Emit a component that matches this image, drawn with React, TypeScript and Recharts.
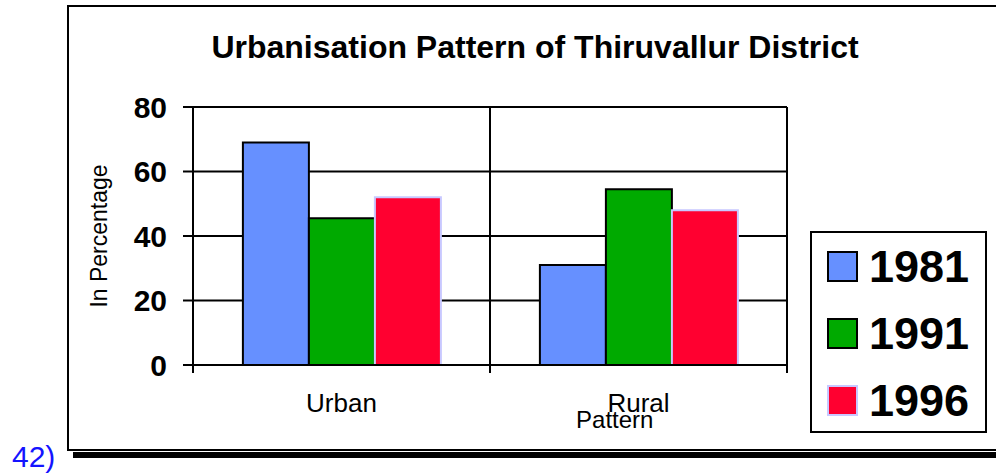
import React from "react";
import { Bar, BarChart, CartesianGrid, Legend, XAxis, YAxis } from "recharts";

const categories = ["Urban", "Rural"];
const values1981 = [69, 31];
const values1991 = [45.5, 54.5];
const values1996 = [52, 48];
const yTicks = [0, 20, 40, 60, 80];

const FONT = "'Liberation Sans', Arial, sans-serif";

const series = [
  { key: "1981", fill: "#6690ff", stroke: "#000000" },
  { key: "1991", fill: "#00aa00", stroke: "#000000" },
  { key: "1996", fill: "#ff0030", stroke: "#c8c8ff" },
];

const data = categories.map((category, i) => ({
  category,
  "1981": values1981[i],
  "1991": values1991[i],
  "1996": values1996[i],
}));

function CategoryTick(props: any) {
  const { x, y, payload, index } = props;
  const half = payload?.offset ?? 0;
  const last = index === categories.length - 1;
  return (
    <g>
      <line x1={x - half} y1={y} x2={x - half} y2={y + 8} stroke="#000" strokeWidth={2} />
      {last && <line x1={x + half} y1={y} x2={x + half} y2={y + 8} stroke="#000" strokeWidth={2} />}
      <text x={x} y={y + 47} textAnchor="middle" fontFamily={FONT} fontSize={26} fill="#000">
        {payload.value}
      </text>
    </g>
  );
}

function LegendBox({ payload }: any) {
  const items = payload ?? [];
  return (
    <div
      style={{
        width: 177,
        height: 202,
        border: "2px solid #000",
        boxSizing: "border-box",
        background: "#fff",
        paddingTop: 0,
        paddingLeft: 15,
      }}
    >
      {items.map((entry: any) => {
        const s = series.find((d) => d.key === entry.value);
        return (
          <div key={entry.value} style={{ display: "flex", alignItems: "center", height: 67 }}>
            <div
              style={{
                width: 31,
                height: 31,
                boxSizing: "border-box",
                background: s?.fill ?? entry.color,
                border: `2px solid ${s?.stroke ?? "#000"}`,
                marginRight: 11,
              }}
            />
            <span style={{ fontFamily: FONT, fontWeight: "bold", fontSize: 45, lineHeight: "45px", color: "#000" }}>
              {entry.value}
            </span>
          </div>
        );
      })}
    </div>
  );
}

export default function App() {
  return (
    <div style={{ position: "absolute", left: 0, top: 0, width: 996, height: 474, background: "#fff", overflow: "hidden" }}>
      <svg width={996} height={474} style={{ position: "absolute", left: 0, top: 0 }}>
        <rect x={68} y={6} width={960} height={444} fill="#fff" stroke="#000" strokeWidth={2} />
        <rect x={73} y={452} width={930} height={6} fill="#000" />
        <text x={535} y={58} textAnchor="middle" fontFamily={FONT} fontWeight="bold" fontSize={32} fill="#000">
          Urbanisation Pattern of Thiruvallur District
        </text>
        <text x={12} y={467} fontFamily={FONT} fontSize={30} fill="#1414ff">
          42)
        </text>
      </svg>
      <div style={{ position: "absolute", left: 0, top: 0 }}>
        <BarChart
          width={996}
          height={474}
          data={data}
          margin={{ top: 107, right: 32, bottom: 49, left: 0 }}
          barCategoryGap="16.8%"
          barGap={0}
        >
          <CartesianGrid
            stroke="#000"
            strokeWidth={2}
            verticalCoordinatesGenerator={({ offset }: any) =>
              categories.map((_, i) => offset.left + ((i + 1) * offset.width) / categories.length)
            }
          />
          <XAxis
            dataKey="category"
            height={60}
            axisLine={{ stroke: "#000", strokeWidth: 2 }}
            tickLine={false}
            tickSize={0}
            tickMargin={0}
            tick={<CategoryTick />}
            interval={0}
            label={{
              content: ({ viewBox }: any) => (
                <text
                  x={viewBox.x + viewBox.width * 0.71}
                  y={viewBox.y + 63}
                  textAnchor="middle"
                  fontFamily={FONT}
                  fontSize={24}
                  fill="#000"
                >
                  Pattern
                </text>
              ),
            }}
          />
          <YAxis
            width={193}
            domain={[0, 80]}
            ticks={yTicks}
            interval={0}
            axisLine={{ stroke: "#000", strokeWidth: 2 }}
            tickLine={{ stroke: "#000", strokeWidth: 2 }}
            tickSize={10}
            tickMargin={16}
            tick={{ fontFamily: FONT, fontWeight: "bold", fontSize: 30, fill: "#000" }}
            label={{
              content: ({ viewBox }: any) => (
                <text
                  x={107}
                  y={viewBox.y + viewBox.height / 2}
                  transform={`rotate(-90 107 ${viewBox.y + viewBox.height / 2})`}
                  textAnchor="middle"
                  fontFamily={FONT}
                  fontSize={23}
                  fill="#000"
                >
                  In Percentage
                </text>
              ),
            }}
          />
          <Legend
            layout="vertical"
            align="right"
            verticalAlign="middle"
            content={<LegendBox />}
            wrapperStyle={{ position: "absolute", left: 810, top: 231, width: 177, height: 202 }}
          />
          {series.map((s) => (
            <Bar
              key={s.key}
              dataKey={s.key}
              name={s.key}
              fill={s.fill}
              stroke={s.stroke}
              strokeWidth={2}
              isAnimationActive={false}
            />
          ))}
        </BarChart>
      </div>
    </div>
  );
}
